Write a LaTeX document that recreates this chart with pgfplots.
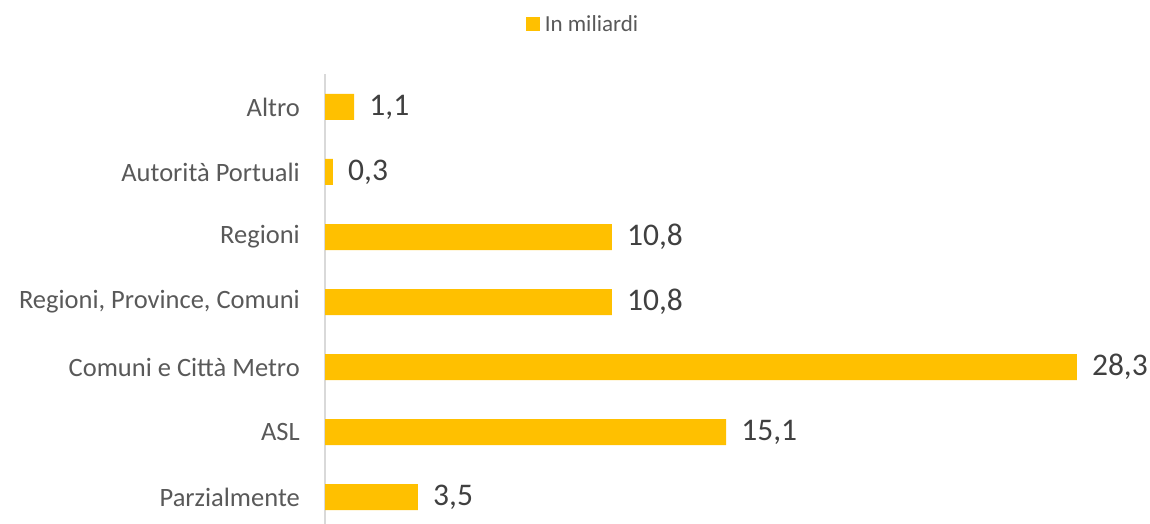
\documentclass[border=0pt]{standalone}
\usepackage{pgfplots}
\pgfplotsset{compat=1.18}
\usepackage{fontspec}
\setmainfont{Carlito}
\definecolor{barc}{HTML}{FFC000}
\definecolor{lab}{HTML}{595959}
\definecolor{val}{HTML}{404040}
\definecolor{axc}{HTML}{D9D9D9}
\begin{document}
\begin{tikzpicture}[x=1pt,y=1pt]
\path[use as bounding box] (0,0) rectangle (1150,524);
\begin{axis}[
  at={(325pt,0pt)}, anchor=south west,
  scale only axis, width=797pt, height=449.5pt,
  xbar, bar width=26pt,
  xmin=0, xmax=30, ymin=-0.415, ymax=6.5,
  axis x line=none,
  axis y line*=left,
  y axis line style={draw=axc, line width=1.3pt},
  ytick={0,1,2,3,4,5,6},
  yticklabels={Parzialmente, ASL, Comuni e Città Metro, {Regioni, Province, Comuni}, Regioni, Autorità Portuali, Altro},
  ytick style={draw=none},
  major tick length=0pt,
  yticklabel style={font=\fontsize{26.5}{30}\selectfont, text=lab, inner sep=0pt, anchor=east, xshift=-25pt},
  point meta=explicit symbolic,
  nodes near coords,
  nodes near coords style={font=\fontsize{31.5}{35}\selectfont, text=val, anchor=west, inner sep=0pt, xshift=15pt},
  clip=false,
  legend style={at={(0.324,1.112)}, anchor=center, draw=none, fill=none, font=\fontsize{23}{26}\selectfont, text=lab, inner sep=0pt, column sep=0pt},
  legend image code/.code={\fill[#1] (0pt,-6.5pt) rectangle (13.5pt,7pt);},
  legend cell align=left,
]
\addplot[fill=barc, draw=none] coordinates {
  (3.5,0) [3,5]
  (15.1,1) [15,1]
  (28.3,2) [28,3]
  (10.8,3) [10,8]
  (10.8,4) [10,8]
  (0.3,5) [0,3]
  (1.1,6) [1,1]
};
\addlegendentry{\hspace{3pt}In miliardi}
\end{axis}
\end{tikzpicture}
\end{document}
